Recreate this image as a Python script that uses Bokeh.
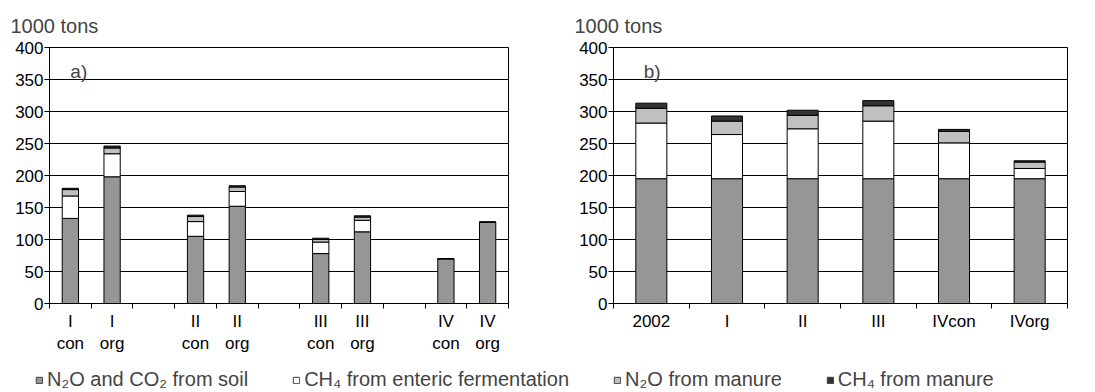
from bokeh.plotting import figure
from bokeh.models import (Range1d, FixedTicker, Label, Legend, LegendItem, ColumnDataSource)
from bokeh.layouts import column, row
from bokeh.embed import file_html
from bokeh.resources import INLINE

# ---------------- data ----------------
series_names = ["N\u2082O and CO\u2082 from soil", "CH\u2084 from enteric fermentation",
                "N\u2082O from manure", "CH\u2084 from manure"]
series_keys = ["soil", "enteric", "n2o_manure", "ch4_manure"]
colors = ["#969696", "#ffffff", "#c0c0c0", "#333333"]

# panel a) : scenarios I-IV, conventional / organic
groups_a = ["I", "II", "III", "IV"]
systems_a = ["con", "org"]
soil_a = [133, 198, 105, 152, 78, 112, 70, 127]
enteric_a = [35, 36, 23, 23, 18, 18, 0, 0]
n2o_manure_a = [10, 9, 8, 7, 4, 5, 0, 0]
ch4_manure_a = [2, 3, 2, 2, 2, 2, 0, 0]

# panel b)
cats_b = ["2002", "I", "II", "III", "IVcon", "IVorg"]
soil_b = [195, 195, 195, 195, 195, 195]
enteric_b = [87, 69, 78, 90, 56, 16]
n2o_manure_b = [23, 21, 21, 24, 18, 10]
ch4_manure_b = [8, 8, 8, 8, 3, 2]

y_ticks = [0, 50, 100, 150, 200, 250, 300, 350, 400]
FONT = "Liberation Sans"


def style(p):
    p.toolbar.logo = None
    p.background_fill_color = "white"
    p.border_fill_color = "white"
    p.outline_line_color = "black"
    p.outline_line_width = 1
    p.xgrid.grid_line_color = None
    p.ygrid.grid_line_color = "black"
    p.ygrid.grid_line_width = 1
    p.ygrid.ticker = FixedTicker(ticks=y_ticks)
    p.yaxis.ticker = FixedTicker(ticks=y_ticks)
    for ax in (p.xaxis, p.yaxis):
        ax.axis_line_color = "black"
        ax.major_label_text_font = FONT
        ax.major_label_text_font_size = "17px"
        ax.major_label_text_color = "black"
    p.yaxis.major_tick_out = 5
    p.yaxis.major_tick_in = 0
    p.yaxis.major_tick_line_color = "black"
    p.yaxis.minor_tick_line_color = None
    p.yaxis.major_label_standoff = 1
    p.xaxis.major_tick_line_color = None
    p.xaxis.minor_tick_out = 5
    p.xaxis.minor_tick_in = 0
    p.xaxis.minor_tick_line_color = "black"
    p.xaxis.major_label_standoff = 2
    p.title.text_font = FONT
    p.title.text_font_size = "20px"
    p.title.text_font_style = "normal"
    p.title.align = "left"
    p.title.offset = -39
    p.title.standoff = 22


# ---------- panel a ----------
labels_a = []
x_a = []
for gi, g in enumerate(groups_a):
    for si, s in enumerate(systems_a):
        labels_a.append(f"{g}\n{s}")
        x_a.append(gi * 3 + si + 0.5)
n_slots_a = len(groups_a) * 3 - 1

src_a = ColumnDataSource(dict(x=x_a, soil=soil_a, enteric=enteric_a,
                              n2o_manure=n2o_manure_a, ch4_manure=ch4_manure_a))

pa = figure(frame_width=459, frame_height=256, min_border_left=49, min_border_right=24,
            min_border_top=47, min_border_bottom=51,
            x_range=Range1d(0, n_slots_a), y_range=Range1d(0, 400),
            output_backend="svg", toolbar_location=None, title="1000 tons")
style(pa)
pa.xaxis.ticker = FixedTicker(ticks=x_a, minor_ticks=list(range(n_slots_a + 1)))
pa.xaxis.major_label_overrides = {x: lab for x, lab in zip(x_a, labels_a)}
pa.vbar_stack(series_keys, x="x", width=0.39, source=src_a, fill_color=colors,
              line_color="black", line_width=1)
pa.add_layout(Label(x=0.5, y=363, text="a)", text_font=FONT, text_font_size="19px",
                    text_baseline="middle"))

# ---------- panel b ----------
x_b = [i + 0.5 for i in range(len(cats_b))]
src_b = ColumnDataSource(dict(x=x_b, soil=soil_b, enteric=enteric_b,
                              n2o_manure=n2o_manure_b, ch4_manure=ch4_manure_b))
pb = figure(frame_width=454, frame_height=256, min_border_left=81, min_border_right=8,
            min_border_top=47, min_border_bottom=51,
            x_range=Range1d(0, len(cats_b)), y_range=Range1d(0, 400),
            output_backend="svg", toolbar_location=None, title="1000 tons")
style(pb)
pb.xaxis.ticker = FixedTicker(ticks=x_b, minor_ticks=list(range(len(cats_b) + 1)))
pb.xaxis.major_label_overrides = {x: lab for x, lab in zip(x_b, cats_b)}
pb.vbar_stack(series_keys, x="x", width=0.41, source=src_b, fill_color=colors,
              line_color="black", line_width=1)
pb.add_layout(Label(x=0.4, y=363, text="b)", text_font=FONT, text_font_size="19px",
                    text_baseline="middle"))

# ---------- legend strip ----------
pl = figure(width=1075, height=38, x_range=Range1d(0, 1), y_range=Range1d(0, 1),
            output_backend="svg", toolbar_location=None, min_border=0)
pl.axis.visible = False
pl.grid.grid_line_color = None
pl.outline_line_color = None
pl.toolbar.logo = None
items = []
for name, c in zip(series_names, colors):
    # off-screen placeholder so the legend swatch has a glyph to draw
    r = pl.vbar(x=[-5], bottom=[-5], top=[-4], width=0.1, fill_color=c, line_color="#404040")
    items.append(LegendItem(label=name, renderers=[r]))
leg = Legend(items=items, orientation="horizontal", location=(35, 3),
             glyph_width=8, glyph_height=8, label_standoff=4, spacing=44,
             padding=0, margin=0, border_line_color=None, background_fill_alpha=0,
             label_text_font=FONT, label_text_font_size="20px")
pl.add_layout(leg)

layout = column(row(pa, pb), pl, spacing=0)
open("out.html", "w").write(file_html(layout, INLINE))
